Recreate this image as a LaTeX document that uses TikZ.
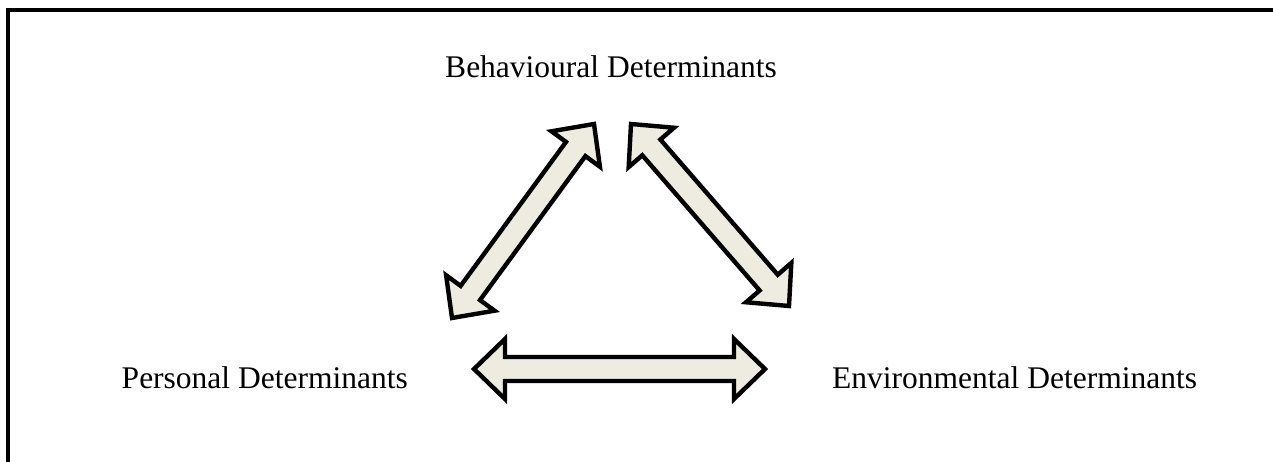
\documentclass[tikz,border=0pt]{standalone}
\usepackage{fontspec}
\setmainfont{Liberation Serif}
\usetikzlibrary{calc}
\definecolor{arrowfill}{HTML}{EEECE1}
\tikzset{
  label text/.style={inner sep=0pt, font=\fontsize{31.5}{38}\selectfont},
  block arrow/.style={draw=black, fill=arrowfill, line width=4.4pt, line join=miter},
  frame line/.style={draw=black, line width=3.2pt},
}
% double-headed block arrow between two named coordinates
\newcommand{\blockarrow}[2]{%
  \path[block arrow]
    (#1)
    -- ($($(#1)!31pt!(#2)$)!30pt!90:(#2)$)
    -- ($($(#1)!31pt!(#2)$)!12pt!90:(#2)$)
    -- ($($(#2)!31pt!(#1)$)!12pt!-90:(#1)$)
    -- ($($(#2)!31pt!(#1)$)!30pt!-90:(#1)$)
    -- (#2)
    -- ($($(#2)!31pt!(#1)$)!30pt!90:(#1)$)
    -- ($($(#2)!31pt!(#1)$)!12pt!90:(#1)$)
    -- ($($(#1)!31pt!(#2)$)!12pt!-90:(#2)$)
    -- ($($(#1)!31pt!(#2)$)!30pt!-90:(#2)$)
    -- cycle;}
\begin{document}
\begin{tikzpicture}[x=1pt,y=-1pt]
  \useasboundingbox (0,0) rectangle (1273,462);
  % frame
  \draw[frame line] (8,462) -- (8,10) -- (1273,10);
  % labels
  \node[label text, anchor=base] (beh) at (611,78) {Behavioural Determinants};
  \node[label text, anchor=base east] (per) at (408,388) {Personal Determinants};
  \node[label text, anchor=base west] (env) at (832,388) {Environmental Determinants};
  % arrow end points
  \coordinate (bl) at (594,124);
  \coordinate (pl) at (452,318);
  \coordinate (br) at (631,124);
  \coordinate (er) at (789,306);
  \coordinate (ph) at (474,369);
  \coordinate (eh) at (765,369);
  % reciprocal influences
  \blockarrow{pl}{bl}
  \blockarrow{br}{er}
  \blockarrow{ph}{eh}
\end{tikzpicture}
\end{document}
